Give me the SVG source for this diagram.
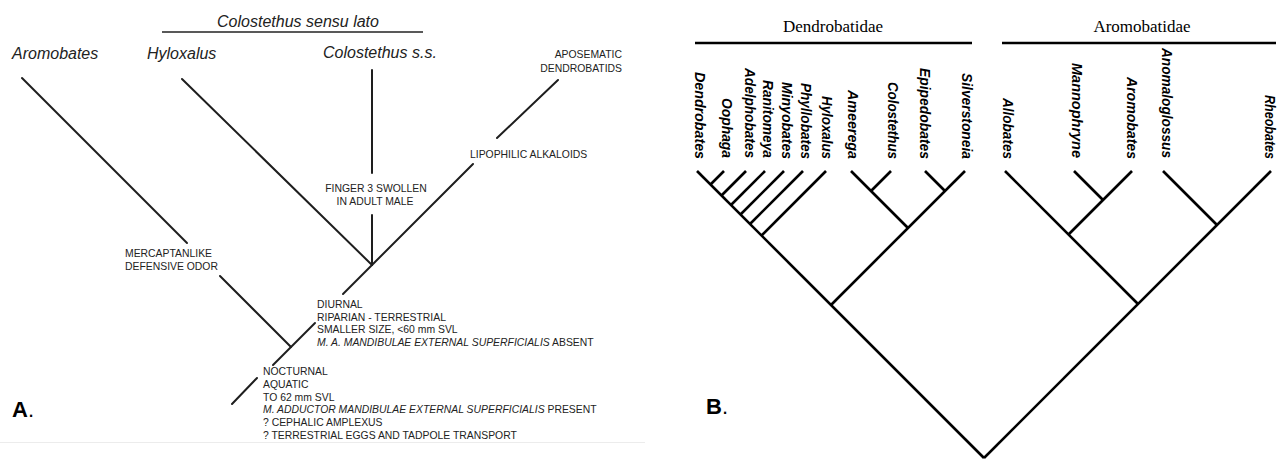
<svg xmlns="http://www.w3.org/2000/svg" width="1278" height="462" viewBox="0 0 1278 462">
<style>
.bg{fill:#ffffff}
.la{stroke:#1e1e1e;stroke-width:2;fill:none;stroke-linecap:round}
.lb{stroke:#000;stroke-width:2.6;fill:none;stroke-linecap:butt}
.hdr{stroke:#000;stroke-width:2.5}
.ti{font-family:"Liberation Sans",Arial,sans-serif;font-style:italic;font-size:16px;fill:#222}
.cap{font-family:"Liberation Sans",Arial,sans-serif;font-size:10.4px;fill:#222}
.it{font-style:italic}
.tb{font-family:"Liberation Sans",Arial,sans-serif;font-style:italic;font-weight:bold;font-size:14.5px;fill:#000}
.fam{font-family:"Liberation Serif","Times New Roman",serif;font-size:17px;fill:#000}
.lab{font-family:"Liberation Sans",Arial,sans-serif;font-size:22px;fill:#000}
</style>
<rect class="bg" x="0" y="0" width="1278" height="462"/>
<line x1="0" y1="442.5" x2="645" y2="442.5" stroke="#ececec" stroke-width="1"/>

<!-- Panel A -->
<g id="A-title">
<text class="ti" x="298" y="27" text-anchor="middle">Colostethus sensu lato</text>
<line x1="162" y1="32" x2="423" y2="32" stroke="#222" stroke-width="1.6"/>
</g>
<g id="A-aromobates"><text class="ti" x="12" y="59">Aromobates</text></g>
<g id="A-hyloxalus"><text class="ti" x="147" y="59">Hyloxalus</text></g>
<g id="A-colostethus"><text class="ti" x="323" y="58">Colostethus s.s.</text></g>
<g id="A-aposematic">
<text class="cap" x="622" y="58" text-anchor="end">APOSEMATIC</text>
<text class="cap" x="622" y="72" text-anchor="end">DENDROBATIDS</text>
</g>
<g id="A-lipophilic"><text class="cap" x="470" y="158">LIPOPHILIC ALKALOIDS</text></g>
<g id="A-finger">
<text class="cap" x="376" y="192" text-anchor="middle">FINGER 3 SWOLLEN</text>
<text class="cap" x="375" y="204.5" text-anchor="middle">IN ADULT MALE</text>
</g>
<g id="A-mercaptan">
<text class="cap" x="125" y="257">MERCAPTANLIKE</text>
<text class="cap" x="125" y="269.5">DEFENSIVE ODOR</text>
</g>
<g id="A-diurnal">
<text class="cap" x="317" y="308">DIURNAL</text>
<text class="cap" x="317" y="320.5">RIPARIAN - TERRESTRIAL</text>
<text class="cap" x="317" y="333">SMALLER SIZE, &lt;60 mm SVL</text>
<text class="cap" x="317" y="345.5"><tspan class="it">M. A. MANDIBULAE EXTERNAL SUPERFICIALIS</tspan> ABSENT</text>
</g>
<g id="A-nocturnal">
<text class="cap" x="263" y="375">NOCTURNAL</text>
<text class="cap" x="263" y="388">AQUATIC</text>
<text class="cap" x="263" y="400.5">TO 62 mm SVL</text>
<text class="cap" x="263" y="413">
<tspan class="it">M. ADDUCTOR MANDIBULAE EXTERNAL SUPERFICIALIS</tspan> PRESENT</text>
<text class="cap" x="263" y="426">? CEPHALIC AMPLEXUS</text>
<text class="cap" x="263" y="438.5">? TERRESTRIAL EGGS AND TADPOLE TRANSPORT</text>
</g>
<g id="A-label"><text class="lab" x="12" y="417"><tspan font-weight="bold">A</tspan>.</text></g>

<g id="A-connectors">
<line class="la" x1="22" y1="78" x2="187" y2="243"/>
<line class="la" x1="220" y1="276" x2="291" y2="347"/>
<line class="la" x1="182" y1="79" x2="372" y2="265"/>
<line class="la" x1="372" y1="70" x2="372" y2="173"/>
<line class="la" x1="372" y1="215" x2="372" y2="265"/>
<line class="la" x1="372" y1="265" x2="473" y2="164"/>
<line class="la" x1="497" y1="138" x2="558" y2="80"/>
<line class="la" x1="372" y1="265" x2="343" y2="294"/>
<line class="la" x1="315" y1="323" x2="273" y2="365"/>
<line class="la" x1="257" y1="378" x2="232" y2="404"/>
</g>

<!-- Panel B -->
<g id="B-dendrobatidae">
<text class="fam" x="833" y="32" text-anchor="middle">Dendrobatidae</text>
<line class="hdr" x1="695" y1="43" x2="972" y2="43"/>
</g>
<g id="B-aromobatidae">
<text class="fam" x="1142" y="32" text-anchor="middle">Aromobatidae</text>
<line class="hdr" x1="1002" y1="43" x2="1276" y2="43"/>
</g>
<g id="B-taxa">
<text class="tb" transform="translate(695,159) rotate(90)" text-anchor="end" textLength="87" lengthAdjust="spacingAndGlyphs">Dendrobates</text>
<text class="tb" transform="translate(722,158) rotate(90)" text-anchor="end" textLength="60" lengthAdjust="spacingAndGlyphs">Oophaga</text>
<text class="tb" transform="translate(745,158) rotate(90)" text-anchor="end" textLength="90" lengthAdjust="spacingAndGlyphs">Adelphobates</text>
<text class="tb" transform="translate(763,158) rotate(90)" text-anchor="end" textLength="78" lengthAdjust="spacingAndGlyphs">Ranitomeya</text>
<text class="tb" transform="translate(782,159) rotate(90)" text-anchor="end" textLength="77" lengthAdjust="spacingAndGlyphs">Minyobates</text>
<text class="tb" transform="translate(801,159) rotate(90)" text-anchor="end" textLength="76" lengthAdjust="spacingAndGlyphs">Phyllobates</text>
<text class="tb" transform="translate(822,159) rotate(90)" text-anchor="end" textLength="63" lengthAdjust="spacingAndGlyphs">Hyloxalus</text>
<text class="tb" transform="translate(848,159) rotate(90)" text-anchor="end" textLength="69" lengthAdjust="spacingAndGlyphs">Ameerega</text>
<text class="tb" transform="translate(888,159) rotate(90)" text-anchor="end" textLength="77" lengthAdjust="spacingAndGlyphs">Colostethus</text>
<text class="tb" transform="translate(920,159) rotate(90)" text-anchor="end" textLength="91" lengthAdjust="spacingAndGlyphs">Epipedobates</text>
<text class="tb" transform="translate(962,159) rotate(90)" text-anchor="end" textLength="86" lengthAdjust="spacingAndGlyphs">Silverstoneia</text>
<text class="tb" transform="translate(1003,159) rotate(90)" text-anchor="end" textLength="61" lengthAdjust="spacingAndGlyphs">Allobates</text>
<text class="tb" transform="translate(1072,158) rotate(90)" text-anchor="end" textLength="95" lengthAdjust="spacingAndGlyphs">Mannophryne</text>
<text class="tb" transform="translate(1127,159) rotate(90)" text-anchor="end" textLength="82" lengthAdjust="spacingAndGlyphs">Aromobates</text>
<text class="tb" transform="translate(1162,158) rotate(90)" text-anchor="end" textLength="110" lengthAdjust="spacingAndGlyphs">Anomaloglossus</text>
<text class="tb" transform="translate(1265,159) rotate(90)" text-anchor="end" textLength="64" lengthAdjust="spacingAndGlyphs">Rheobates</text>
</g>
<g id="B-label"><text class="lab" x="706" y="414"><tspan font-weight="bold">B</tspan>.</text></g>

<g id="B-connectors">
<line class="lb" x1="697" y1="171" x2="984" y2="458"/>
<line class="lb" x1="1271" y1="171" x2="984" y2="458"/>
<line class="lb" x1="724" y1="171" x2="710.5" y2="184.5"/>
<line class="lb" x1="746" y1="171" x2="721.5" y2="195.5"/>
<line class="lb" x1="765" y1="171" x2="731" y2="205"/>
<line class="lb" x1="784" y1="171" x2="740.5" y2="214.5"/>
<line class="lb" x1="803" y1="171" x2="750" y2="224"/>
<line class="lb" x1="826" y1="171" x2="761.5" y2="235.5"/>
<line class="lb" x1="965" y1="171" x2="831" y2="305"/>
<line class="lb" x1="851" y1="171" x2="908" y2="228"/>
<line class="lb" x1="891" y1="171" x2="871" y2="191"/>
<line class="lb" x1="925" y1="171" x2="945" y2="191"/>
<line class="lb" x1="1005" y1="171" x2="1138" y2="304"/>
<line class="lb" x1="1132" y1="171" x2="1068.5" y2="234.5"/>
<line class="lb" x1="1074" y1="171" x2="1103" y2="200"/>
<line class="lb" x1="1163" y1="171" x2="1217" y2="225"/>
</g>
</svg>
